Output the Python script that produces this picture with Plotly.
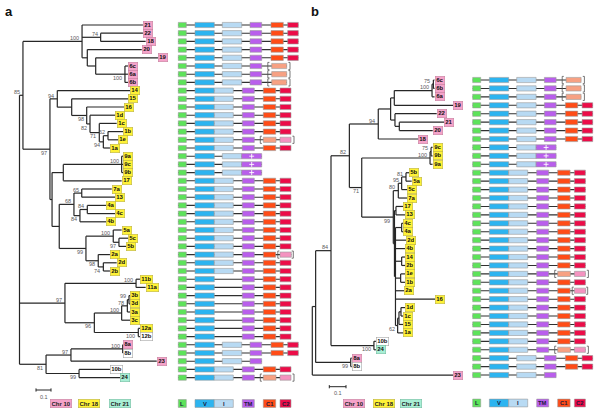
import plotly.graph_objects as go

# ============================ DATA ============================
# Phylogenies (Newick; branch lengths = substitutions/site; internal labels = bootstrap %)
A_PINK = ("(21:0.406,(22:0.282,18:0.300)74:0.124,(20:0.363,(19:0.415,"
          "(6c:0.020,6a:0.020,6b:0.020)100:0.195):0.056):0.035)100")
A_GRP1 = ("(14:0.485,(15:0.377,(16:0.249,(1d:0.167,(1c:0.116,((1b:0.102,1e:0.069)62:0.031,"
          "1a:0.044)94:0.027)71:0.062)82:0.022)98:0.100):0.096)94")
A_GRP2 = ("(((9a:0.011,9c:0.011,9b:0.011)100:0.389,17:0.389):0.075,(((7a:0.200,13:0.222)65:0.052,"
          "((4a:0.125,4c:0.185)84:0.049,4b:0.174)84:0.040)68:0.098,((5a:0.056,(5c:0.062,5b:0.047)97:0.038)100:0.182,"
          "(2a:0.078,(2d:0.089,2b:0.044)74:0.034)98:0.082)99:0.178):0.048)")
A_GRP3 = ("((11b:0.026,11a:0.064)100:0.474,((((3b:0.007,3d:0.007)99:0.011,3a:0.018)78:0.038,3c:0.056)100:0.182,"
          "(12a:0.011,12b:0.011)100:0.293)96:0.196)97")
A_GRP4 = "(((8a:0.004,8b:0.004)100:0.345,23:0.572)97:0.166,(10b:0.206,24:0.273)99:0.220)81"
TREE_A = ("((" + A_PINK + ":0.394,(" + A_GRP1 + ":0.049," + A_GRP2 + ":0.014)97:0.180)85:0.023,"
          + A_GRP3 + ":0.303," + A_GRP4 + ":0.177);")

B_PINK = ("(((((6c:0.007,6b:0.007)75:0.008,6a:0.015)100:0.226,19:0.353):0.022,"
          "(22:0.250,(21:0.268,20:0.200):0.026):0.026):0.074,18:0.240)94")
B_GRP9 = "((9c:0.009,9b:0.009)75:0.006,9a:0.015)100"
B_GRP5 = "(((5b:0.020,5a:0.034)81:0.026,5c:0.034)95:0.020,7a:0.054)80"
B_GRP1 = ("((4c:0.010,4a:0.010):0.037,2d:0.063,4b:0.057,(14:0.020,2b:0.020):0.037,(1e:0.026,1b:0.026):0.031,"
          "2a:0.051,16:0.237,(((1d:0.024,1c:0.014):0.012,15:0.026):0.008,1a:0.034)62:0.013)")
B_N99 = "(" + B_GRP5 + ":0.030,((17:0.044,13:0.054):0.009," + B_GRP1 + ":0.006):0.007)99"
B_N82 = "(" + B_PINK + ":0.173,(" + B_GRP9 + ":0.409," + B_N99 + ":0.189)71:0.074)82"
TREE_B = ("(((" + B_N82 + ":0.110,(10b:0.012,24:0.012)100:0.257)84:0.092,"
          "(8a:0.006,8b:0.006)99:0.210):0.020,23:0.844);")

CHR10 = ["21", "22", "18", "20", "19", "6a", "6b", "6c", "8a", "23"]
CHR18 = ["14", "15", "16", "1a", "1b", "1c", "1d", "1e", "9a", "9b", "9c", "17", "7a", "13",
         "4a", "4b", "4c", "5a", "5b", "5c", "2a", "2b", "2d", "11a", "11b", "3a", "3b", "3c", "3d", "12a"]
CHR21 = ["24"]

# domain architectures (schematic positions along the protein)
ARCHITECTURES = {
    "A":   [("L", 0, 8), ("V", 16.7, 36), ("I", 44, 63.4), ("TM", 71.7, 83.4), ("C1", 92.7, 105), ("C2", 109.4, 120)],
    "A6":  [("L", 0, 8), ("V", 16.7, 36), ("I", 44, 63.4), ("TM", 71.7, 83.4), ("[", 89.5), ("C1p", 93.4, 108.4), ("]", 111.7)],
    "A0":  [("L", 0, 8), ("V", 16.7, 36), ("I", 44, 63.4), ("TM", 71.7, 83.4)],
    "B":   [("L", 0, 8), ("V", 16.7, 36), ("I", 36, 55), ("TM", 64, 76), ("C1", 85, 97.4), ("C2", 101.7, 112.7)],
    "B12": [("L", 0, 8), ("V", 16.7, 36), ("I", 36, 55), ("TM", 64, 76), ("[", 82), ("C1p", 85, 97.7), ("C2p", 101.7, 112.7), ("]", 115.7)],
    "B2":  [("L", 0, 8), ("V", 16.7, 36), ("I", 36, 55), ("TM", 64, 76), ("C1", 85, 97.4), ("[", 99.5), ("C2p", 101.7, 113), ("]", 115)],
    "C":   [("L", 0, 8), ("V", 16.7, 36), ("I", 44, 63.4), ("TM+", 63.4, 83.4)],
    "N":   [("L", 0, 8), ("V", 16.7, 36), ("TM", 64, 76), ("C1", 85, 97.4), ("C2", 101.7, 112.7)],
}
ARCH_A = ["21", "22", "18", "20", "19", "8a", "8b"]
ARCH_A6 = ["6a", "6b", "6c"]
ARCH_A0 = ["23"]
ARCH_C = ["9a", "9b", "9c"]
ARCH_B12 = ["1e", "24"]
ARCH_B2 = ["2a"]
ARCH_N = ["11a", "11b", "3a", "3b", "3c", "3d", "12a", "12b"]
LEGEND_DOMAINS = ["L", "V", "I", "TM", "C1", "C2"]
CHR_LEGEND = ["Chr 10", "Chr 18", "Chr 21"]
SCALE_LEN = 0.1

# ============================ STYLE ============================
FONT = "Liberation Sans, Arial, sans-serif"
CHR_STYLE = {"10": ("#F5A2C9", "#C6819F"), "18": ("#FFF236", "#BDB448"),
             "21": ("#A8EFD5", "#73BDA2"), "": ("#FFFFFF", "#A6A6A6")}
DOM_COL = {"L": "#5DE35A", "V": "#2CB4F0", "I": "#B8DAF3", "TM": "#B95EEC", "C1": "#FF4C17",
           "C2": "#EC0C48", "C1p": "#F7A183", "C2p": "#F493C0"}
LINE_COL = "#262626"

PANELS = {
    "a": dict(tree=TREE_A, root_px=19.5, ppu=150, top=25, pitch=8.2, arch_px=178.3,
              xt="x", xd="x3", y="y",
              below={("6c", "6b"), ("16", "1a"), ("1d", "1a"), ("1c", "1a"), ("1b", "1a"), ("14", "2b"),
                     ("4a", "4b"), ("5c", "5b"), ("5a", "2b"), ("2a", "2b"), ("2d", "2b"),
                     ("12a", "12b"), ("3b", "12b"), ("10b", "24"), ("8a", "24")},
              scale_px=(36, 390), chr_leg=[(60.7, 403.5), (88.5, 403.5), (119.7, 403.5)], leg_y=403.5,
              letter=(9, 12)),
    "b": dict(tree=TREE_B, root_px=312.3, ppu=167, top=80, pitch=8.43, arch_px=472.7,
              xt="x2", xd="x4", y="y2",
              below={("9c", "1a"), ("5b", "1a"), ("1d", "1a"), ("10b", "24"), ("8a", "8b")},
              scale_px=(329.3, 386.7), chr_leg=[(354.3, 403), (383.7, 403), (411.2, 403)], leg_y=403,
              letter=(314.5, 12)),
}
W, H = 600, 411


def parse_newick(s):
    s = s.strip().rstrip(";")
    pos = [0]

    def node():
        n = {"children": [], "name": "", "len": 0.0}
        if s[pos[0]] == "(":
            pos[0] += 1
            while True:
                n["children"].append(node())
                ch = s[pos[0]]
                pos[0] += 1
                if ch == ")":
                    break
        st = pos[0]
        while pos[0] < len(s) and s[pos[0]] not in ":,()":
            pos[0] += 1
        n["name"] = s[st:pos[0]]
        if pos[0] < len(s) and s[pos[0]] == ":":
            pos[0] += 1
            st = pos[0]
            while pos[0] < len(s) and s[pos[0]] not in ",()":
                pos[0] += 1
            n["len"] = float(s[st:pos[0]])
        return n
    return node()


def gene_chr(g):
    if g in CHR10: return "10"
    if g in CHR18: return "18"
    if g in CHR21: return "21"
    return ""


def gene_arch(g):
    for k, lst in (("A", ARCH_A), ("A6", ARCH_A6), ("A0", ARCH_A0), ("C", ARCH_C),
                   ("B12", ARCH_B12), ("B2", ARCH_B2), ("N", ARCH_N)):
        if g in lst:
            return k
    return "B"


fig = go.Figure()
ann = []

for key, P in PANELS.items():
    root = parse_newick(P["tree"])
    leaves, nodes = [], []
    cnt = [0]

    def place(n, px):
        n["x"] = px + n["len"]
        nodes.append(n)
        if n["children"]:
            for c in n["children"]:
                place(c, n["x"])
            n["y"] = (n["children"][0]["y"] + n["children"][-1]["y"]) / 2
            n["first"] = n["children"][0]["first"]
            n["last"] = n["children"][-1]["last"]
        else:
            n["y"] = cnt[0]
            cnt[0] += 1
            n["first"] = n["last"] = n["name"]
            leaves.append(n)
    place(root, 0.0)

    xt, xd, ya = P["xt"], P["xd"], P["y"]
    pu = 1.0 / P["pitch"]  # row units per pixel

    # ---- tree branches ----
    lx, ly = [], []
    for n in nodes:
        if n["children"]:
            lx += [n["x"], n["x"], None]
            ly += [n["children"][0]["y"], n["children"][-1]["y"], None]
            for c in n["children"]:
                lx += [n["x"], c["x"], None]
                ly += [c["y"], c["y"], None]
    fig.add_trace(go.Scatter(x=lx, y=ly, mode="lines", xaxis=xt, yaxis=ya, hoverinfo="skip",
                             line=dict(color=LINE_COL, width=1.2), showlegend=False))

    # ---- bootstrap labels ----
    for n in nodes:
        if n["children"] and n["name"]:
            below = (n["first"], n["last"]) in P["below"]
            ann.append(dict(x=n["x"], y=n["y"], xref=xt, yref=ya, text=n["name"], showarrow=False,
                            xanchor="right", yanchor="middle", xshift=-1, yshift=(-3.6 if below else 3.3),
                            font=dict(family=FONT, size=5.5, color="#5a5a5a")))

    # ---- leaf labels ----
    for lf in leaves:
        bg, bd = CHR_STYLE[gene_chr(lf["name"])]
        ann.append(dict(x=lf["x"], y=lf["y"], xref=xt, yref=ya, text="<b>" + lf["name"] + "</b>",
                        showarrow=False, xanchor="left", yanchor="middle", bgcolor=bg, bordercolor=bd,
                        borderwidth=0.6, borderpad=0.6, height=6.3,
                        font=dict(family=FONT, size=6, color="#111")))

    # ---- domain architectures ----
    boxes = {k: ([], []) for k in DOM_COL}
    dlx, dly, bx, by, plx, ply = [], [], [], [], [], []
    hh = 2.6 * pu
    hb = 3.6 * pu
    for lf in leaves:
        y = lf["y"]
        segs = ARCHITECTURES[gene_arch(lf["name"])]
        end = max(s[2] for s in segs if len(s) == 3)
        dlx += [0, end, None]
        dly += [y, y, None]
        for s in segs:
            if len(s) == 2:
                p = s[1]
                d = 1.6 if s[0] == "[" else -1.6
                bx += [p + d, p, p, p + d, None]
                by += [y - hb, y - hb, y + hb, y + hb, None]
            else:
                nm, x0, x1 = s
                k = "TM" if nm == "TM+" else nm
                boxes[k][0].extend([x0, x1, x1, x0, x0, None])
                boxes[k][1].extend([y - hh, y - hh, y + hh, y + hh, y - hh, None])
                if nm == "TM+":
                    plx.append((x0 + x1) / 2)
                    ply.append(y)
    # legend row
    ly_row = (P["leg_y"] - P["top"]) * pu
    lh = 3.9 * pu
    for s in ARCHITECTURES["B"]:
        nm, x0, x1 = s
        boxes[nm][0].extend([x0, x1, x1, x0, x0, None])
        boxes[nm][1].extend([ly_row - lh, ly_row - lh, ly_row + lh, ly_row + lh, ly_row - lh, None])
        ann.append(dict(x=(x0 + x1) / 2, y=ly_row, xref=xd, yref=ya, text="<b>" + nm + "</b>",
                        showarrow=False, xanchor="center", yanchor="middle",
                        font=dict(family=FONT, size=5.8, color="#1a1a3a")))

    fig.add_trace(go.Scatter(x=dlx, y=dly, mode="lines", xaxis=xd, yaxis=ya, hoverinfo="skip",
                             line=dict(color="#303030", width=1.1), showlegend=False))
    for k, (xs, ys) in boxes.items():
        if xs:
            fig.add_trace(go.Scatter(x=xs, y=ys, mode="lines", fill="toself", fillcolor=DOM_COL[k],
                                     xaxis=xd, yaxis=ya, hoverinfo="skip",
                                     line=dict(color="#9a9a9a", width=0.6), showlegend=False))
    fig.add_trace(go.Scatter(x=bx, y=by, mode="lines", xaxis=xd, yaxis=ya, hoverinfo="skip",
                             line=dict(color="#555", width=0.8), showlegend=False))
    if plx:
        fig.add_trace(go.Scatter(x=plx, y=ply, mode="markers", xaxis=xd, yaxis=ya, hoverinfo="skip",
                                 marker=dict(symbol="cross-thin", size=3.5, line=dict(color="white", width=0.9)),
                                 showlegend=False))

    # ---- scale bar ----
    sx0 = (P["scale_px"][0] - P["root_px"]) / P["ppu"]
    sy = (P["scale_px"][1] - P["top"]) * pu
    t = 1.6 * pu
    fig.add_trace(go.Scatter(x=[sx0, sx0 + SCALE_LEN, None, sx0, sx0, None, sx0 + SCALE_LEN, sx0 + SCALE_LEN],
                             y=[sy, sy, None, sy - t, sy + t, None, sy - t, sy + t],
                             mode="lines", xaxis=xt, yaxis=ya, hoverinfo="skip",
                             line=dict(color=LINE_COL, width=1), showlegend=False))
    ann.append(dict(x=sx0 + SCALE_LEN / 2, y=sy, xref=xt, yref=ya, text=str(SCALE_LEN), showarrow=False,
                    xanchor="center", yanchor="top", yshift=-1.5,
                    font=dict(family=FONT, size=5.5, color="#5a5a5a")))

    # ---- chromosome legend ----
    for (cxp, cyp), lab in zip(P["chr_leg"], CHR_LEGEND):
        bg, bd = CHR_STYLE[lab.split()[1]]
        ann.append(dict(x=cxp / W, y=1 - cyp / H, xref="paper", yref="paper", text="<b>" + lab + "</b>",
                        showarrow=False, xanchor="center", yanchor="middle", bgcolor=bg, bordercolor=bd,
                        borderwidth=0.6, borderpad=0.8, height=6.4,
                        font=dict(family=FONT, size=6, color="#222")))

    # ---- panel letter ----
    ann.append(dict(x=P["letter"][0] / W, y=1 - P["letter"][1] / H, xref="paper", yref="paper",
                    text="<b>" + key + "</b>", showarrow=False, xanchor="center", yanchor="middle",
                    font=dict(family=FONT, size=13, color="#111")))

PA, PB = PANELS["a"], PANELS["b"]
ax = dict(visible=False, showgrid=False, zeroline=False, fixedrange=True)
fig.update_layout(
    width=W, height=H, margin=dict(l=0, r=0, t=0, b=0),
    paper_bgcolor="white", plot_bgcolor="white", showlegend=False,
    xaxis=dict(ax, domain=[0, 1], range=[-PA["root_px"] / PA["ppu"], (W - PA["root_px"]) / PA["ppu"]], anchor="y"),
    xaxis2=dict(ax, domain=[0, 1], range=[-PB["root_px"] / PB["ppu"], (W - PB["root_px"]) / PB["ppu"]],
                anchor="y2", overlaying="x"),
    xaxis3=dict(ax, domain=[0, 1], range=[-PA["arch_px"], W - PA["arch_px"]], anchor="y", overlaying="x"),
    xaxis4=dict(ax, domain=[0, 1], range=[-PB["arch_px"], W - PB["arch_px"]], anchor="y2", overlaying="x"),
    yaxis=dict(ax, domain=[0, 1], range=[(H - PA["top"]) / PA["pitch"], -PA["top"] / PA["pitch"]], anchor="x"),
    yaxis2=dict(ax, domain=[0, 1], range=[(H - PB["top"]) / PB["pitch"], -PB["top"] / PB["pitch"]],
                anchor="x2", overlaying="y"),
    annotations=ann,
)
fig.write_html("out.html", config={"displayModeBar": False},
               post_script="document.body.style.margin='0px';document.body.style.padding='0px';")
